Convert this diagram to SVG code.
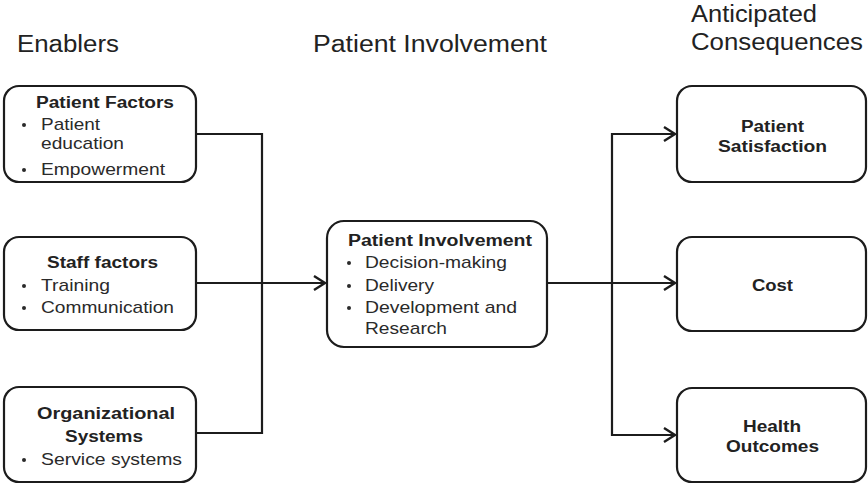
<svg xmlns="http://www.w3.org/2000/svg" width="868" height="486" viewBox="0 0 868 486">
<defs>
<style>
.box{fill:#fff;stroke:#1c1c1c;stroke-width:2.2}
.ln{fill:none;stroke:#1c1c1c;stroke-width:2.2}
.h{font-family:"Liberation Sans",Arial,sans-serif;font-size:23px;fill:#222}
.b{font-family:"Liberation Sans",Arial,sans-serif;font-size:16px;font-weight:bold;fill:#222}
.t{font-family:"Liberation Sans",Arial,sans-serif;font-size:17px;fill:#2a2a2a}
.dot{fill:#2a2a2a}
</style>
<marker id="arr" markerUnits="userSpaceOnUse" markerWidth="16" markerHeight="18" refX="12" refY="8" orient="auto">
<path d="M1,1 L12,8 L1,15" fill="none" stroke="#1c1c1c" stroke-width="2.4"/>
</marker>
</defs>
<rect width="868" height="486" fill="#fff"/>

<g id="headers">
<text class="h" x="17" y="52" textLength="102" lengthAdjust="spacingAndGlyphs">Enablers</text>
<text class="h" x="313" y="52" textLength="234" lengthAdjust="spacingAndGlyphs">Patient Involvement</text>
<text class="h" x="691" y="22" textLength="126" lengthAdjust="spacingAndGlyphs">Anticipated</text>
<text class="h" x="691" y="50" textLength="172" lengthAdjust="spacingAndGlyphs">Consequences</text>
</g>

<g id="connectors">
<polyline class="ln" points="196,134 262,134 262,433 196,433"/>
<line class="ln" x1="196" y1="283" x2="325" y2="283" marker-end="url(#arr)"/>
<line class="ln" x1="547" y1="283" x2="675" y2="283" marker-end="url(#arr)"/>
<polyline class="ln" points="675,134 612,134 612,435 675,435"/>
<line class="ln" x1="612" y1="134" x2="675" y2="134" marker-end="url(#arr)"/>
<line class="ln" x1="612" y1="435" x2="675" y2="435" marker-end="url(#arr)"/>
</g>

<g id="patient-factors">
<rect class="box" x="4" y="86" width="192" height="96" rx="15"/>
<text class="b" x="36" y="108" textLength="138" lengthAdjust="spacingAndGlyphs">Patient Factors</text>
<circle class="dot" cx="24" cy="125" r="2"/>
<text class="t" x="41" y="130" textLength="59" lengthAdjust="spacingAndGlyphs">Patient</text>
<text class="t" x="41" y="149" textLength="83" lengthAdjust="spacingAndGlyphs">education</text>
<circle class="dot" cx="24" cy="170" r="2"/>
<text class="t" x="41" y="175" textLength="124" lengthAdjust="spacingAndGlyphs">Empowerment</text>
</g>

<g id="staff-factors">
<rect class="box" x="4" y="237" width="192" height="93" rx="15"/>
<text class="b" x="47" y="268" textLength="111" lengthAdjust="spacingAndGlyphs">Staff factors</text>
<circle class="dot" cx="24" cy="286" r="2"/>
<text class="t" x="41" y="291" textLength="69" lengthAdjust="spacingAndGlyphs">Training</text>
<circle class="dot" cx="24" cy="308" r="2"/>
<text class="t" x="41" y="313" textLength="133" lengthAdjust="spacingAndGlyphs">Communication</text>
</g>

<g id="organizational-systems">
<rect class="box" x="4" y="387" width="192" height="95" rx="15"/>
<text class="b" x="37" y="419" textLength="138" lengthAdjust="spacingAndGlyphs">Organizational</text>
<text class="b" x="65" y="442" textLength="78" lengthAdjust="spacingAndGlyphs">Systems</text>
<circle class="dot" cx="24" cy="460" r="2"/>
<text class="t" x="41" y="465" textLength="141" lengthAdjust="spacingAndGlyphs">Service systems</text>
</g>

<g id="patient-involvement">
<rect class="box" x="327" y="221" width="220" height="126" rx="17"/>
<text class="b" x="348" y="246" textLength="184" lengthAdjust="spacingAndGlyphs">Patient Involvement</text>
<circle class="dot" cx="349" cy="263" r="2"/>
<text class="t" x="365" y="268" textLength="142" lengthAdjust="spacingAndGlyphs">Decision-making</text>
<circle class="dot" cx="349" cy="286" r="2"/>
<text class="t" x="365" y="291" textLength="69" lengthAdjust="spacingAndGlyphs">Delivery</text>
<circle class="dot" cx="349" cy="308" r="2"/>
<text class="t" x="365" y="313" textLength="152" lengthAdjust="spacingAndGlyphs">Development and</text>
<text class="t" x="365" y="334" textLength="82" lengthAdjust="spacingAndGlyphs">Research</text>
</g>

<g id="patient-satisfaction">
<rect class="box" x="677" y="86" width="189" height="96" rx="15"/>
<text class="b" x="741" y="132" textLength="63" lengthAdjust="spacingAndGlyphs">Patient</text>
<text class="b" x="718" y="152" textLength="109" lengthAdjust="spacingAndGlyphs">Satisfaction</text>
</g>

<g id="cost">
<rect class="box" x="677" y="237" width="189" height="94" rx="15"/>
<text class="b" x="752" y="291" textLength="41" lengthAdjust="spacingAndGlyphs">Cost</text>
</g>

<g id="health-outcomes">
<rect class="box" x="677" y="388" width="189" height="94" rx="15"/>
<text class="b" x="743" y="432" textLength="58" lengthAdjust="spacingAndGlyphs">Health</text>
<text class="b" x="726" y="452" textLength="93" lengthAdjust="spacingAndGlyphs">Outcomes</text>
</g>
</svg>
